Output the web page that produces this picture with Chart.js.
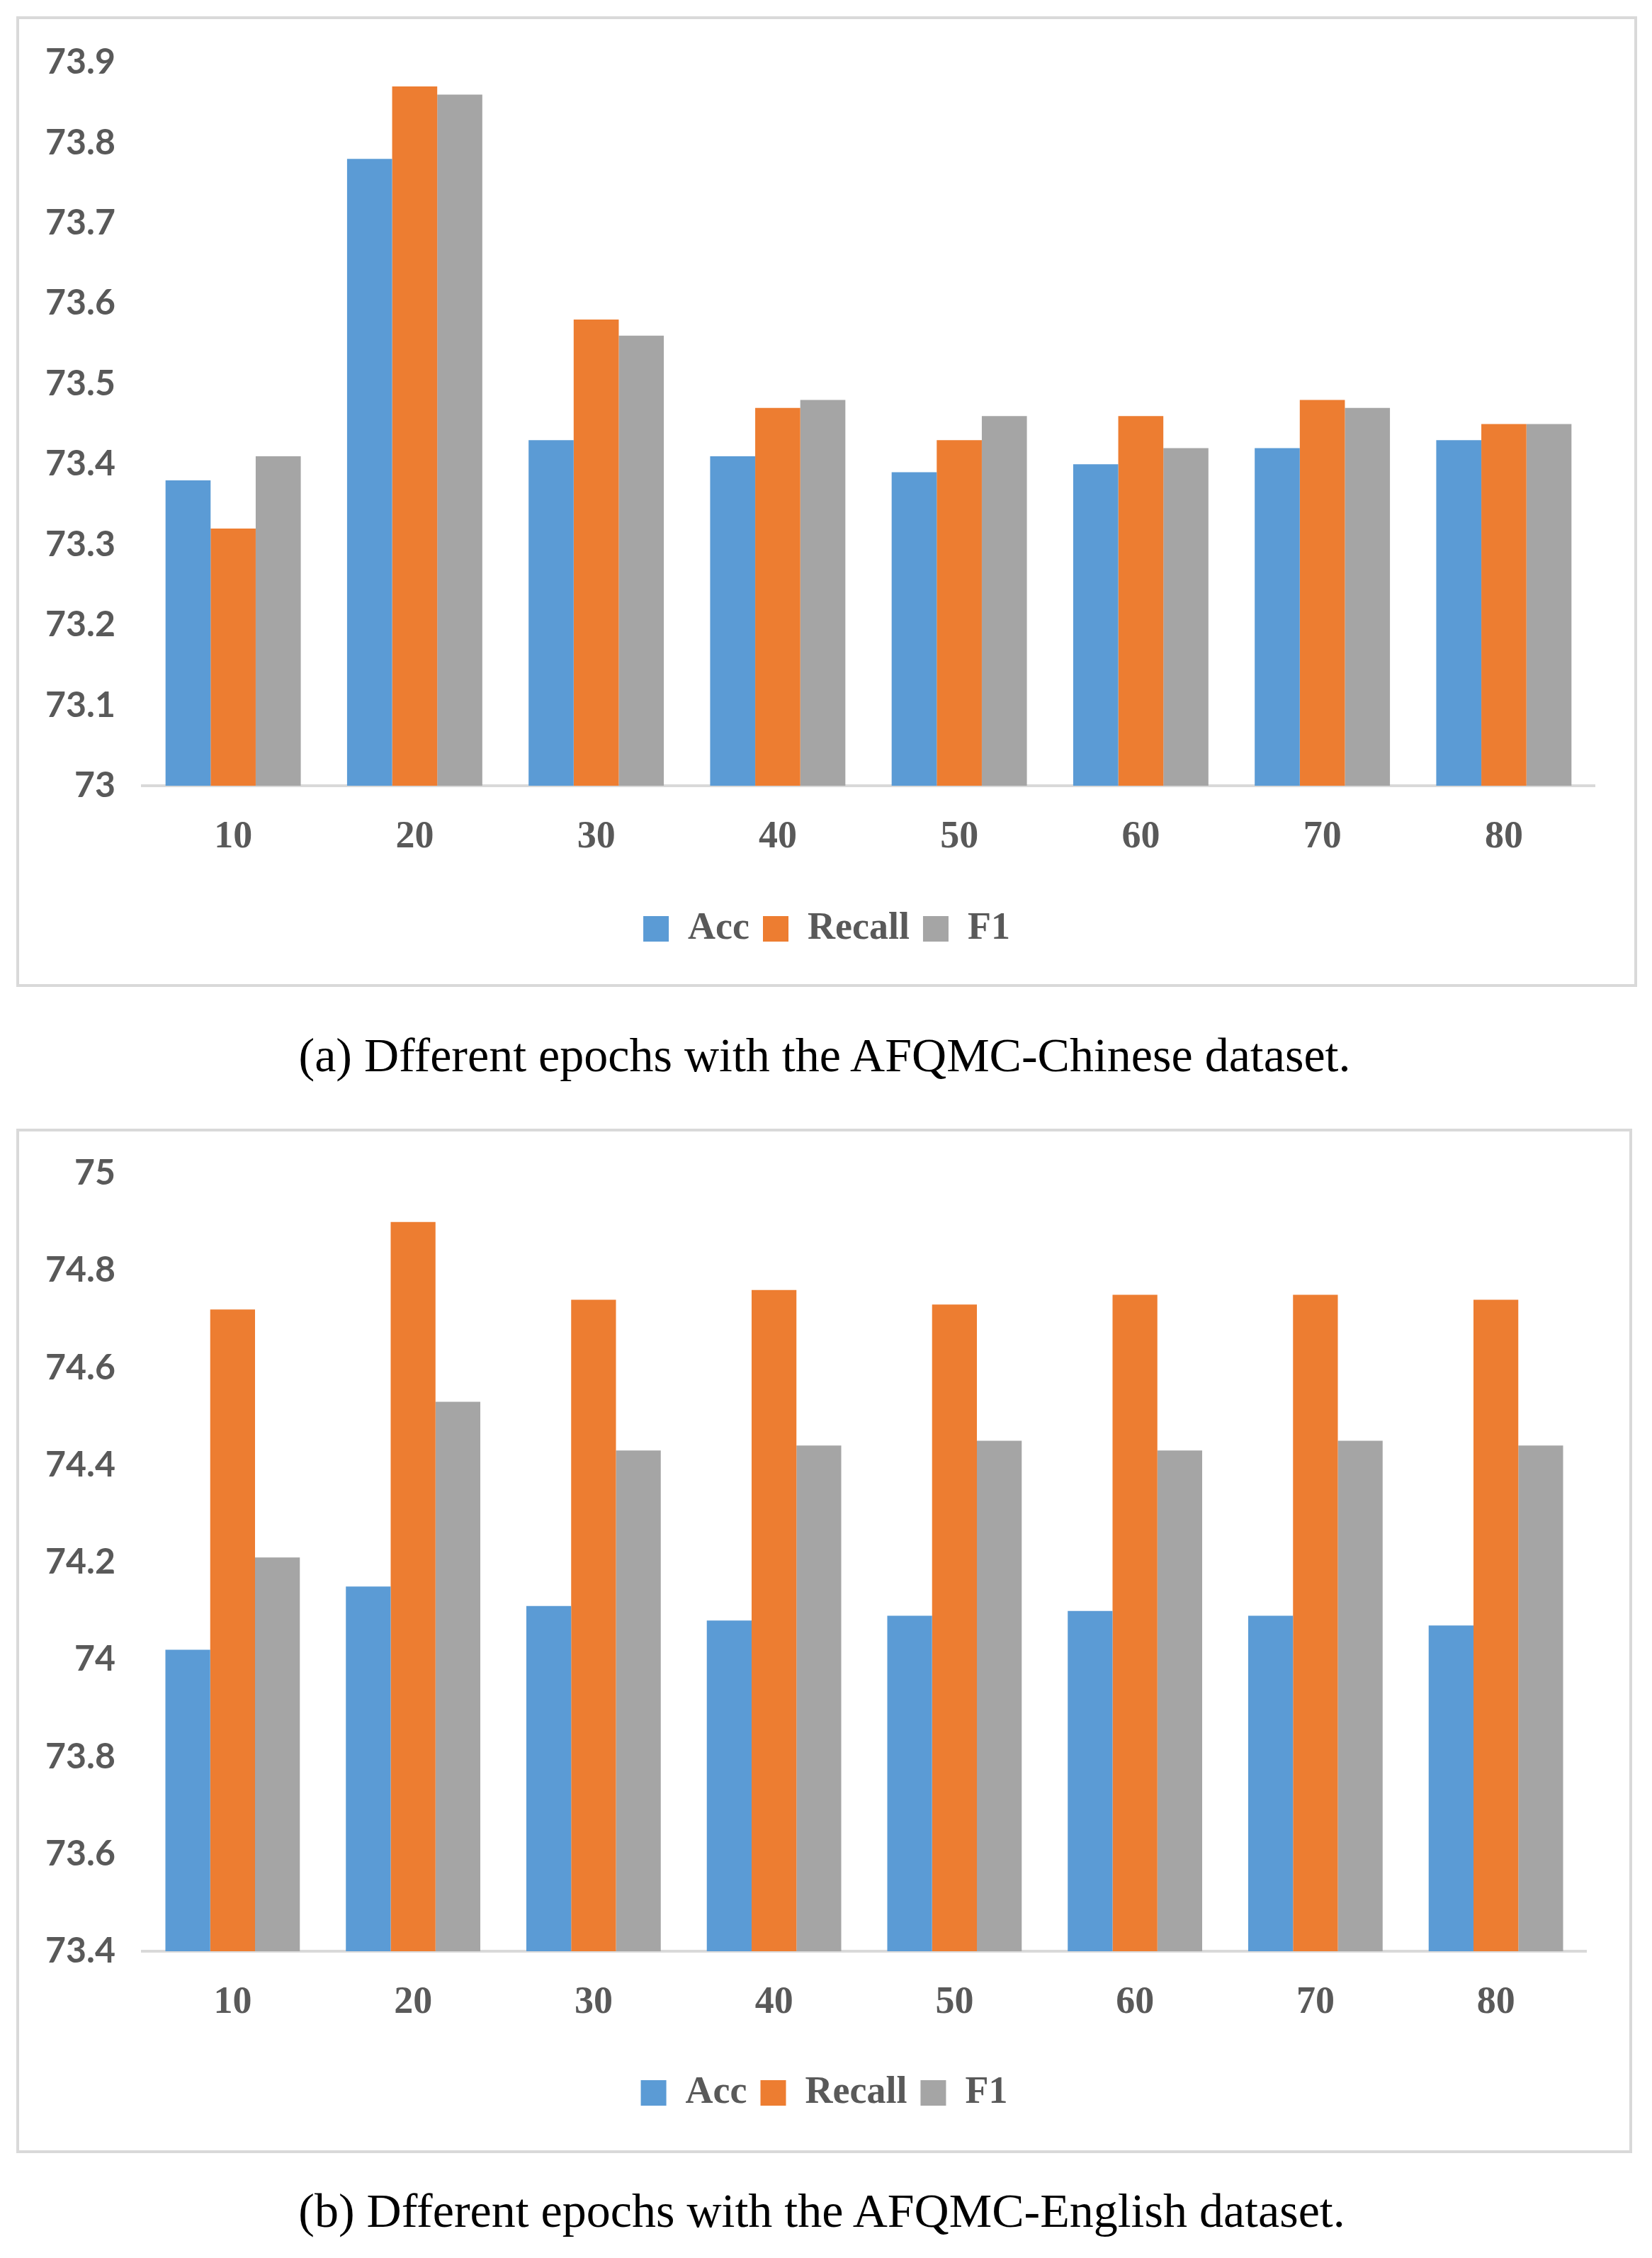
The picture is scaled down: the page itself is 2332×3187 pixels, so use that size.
<!DOCTYPE html>
<html>
<head>
<meta charset="utf-8">
<script src="https://cdn.jsdelivr.net/npm/chart.js@4.4.1/dist/chart.umd.min.js"></script>
<style>
    html, body { margin: 0; padding: 0; background: #ffffff; }
    body { position: relative; width: 2332px; height: 3187px; overflow: hidden; }
    .panel {
        position: absolute;
        box-sizing: border-box;
        border: 4px solid #d9d9d9;
        background: #ffffff;
    }
    .panel .wrap { position: relative; width: 100%; height: 100%; }
    .caption {
        position: absolute;
        left: 0;
        width: 2332px;
        text-align: center;
        font-family: "Liberation Serif", "Times New Roman", serif;
        font-size: 68px;
        line-height: 68px;
        color: #000000;
        white-space: nowrap;
    }
</style>
</head>
<body>

<div class="panel" id="panelA" style="left:23px; top:23px; width:2288px; height:1370px;">
    <div class="wrap"><canvas id="chartA"></canvas></div>
</div>
<div class="caption" style="top:1455px; left:-2px;">(a) Dfferent epochs with the AFQMC-Chinese dataset.</div>

<div class="panel" id="panelB" style="left:23px; top:1593px; width:2281px; height:1446px;">
    <div class="wrap"><canvas id="chartB"></canvas></div>
</div>
<div class="caption" style="top:3086px; left:-6px;">(b) Dfferent epochs with the AFQMC-English dataset.</div>

<script>
// Categories (training epochs)
const epochs = ['10', '20', '30', '40', '50', '60', '70', '80'];
const seriesNames = ['Acc', 'Recall', 'F1'];

// (a) AFQMC-Chinese
const accCn    = [73.38, 73.78, 73.43, 73.41, 73.39, 73.40, 73.42, 73.43];
const recallCn = [73.32, 73.87, 73.58, 73.47, 73.43, 73.46, 73.48, 73.45];
const f1Cn     = [73.41, 73.86, 73.56, 73.48, 73.46, 73.42, 73.47, 73.45];
const yTicksCn = [73, 73.1, 73.2, 73.3, 73.4, 73.5, 73.6, 73.7, 73.8, 73.9];

// (b) AFQMC-English
const accEn    = [74.02, 74.15, 74.11, 74.08, 74.09, 74.10, 74.09, 74.07];
const recallEn = [74.72, 74.90, 74.74, 74.76, 74.73, 74.75, 74.75, 74.74];
const f1En     = [74.21, 74.53, 74.43, 74.44, 74.45, 74.43, 74.45, 74.44];
const yTicksEn = [73.4, 73.6, 73.8, 74, 74.2, 74.4, 74.6, 74.8, 75];

const colors = ['#5b9bd5', '#ed7d31', '#a5a5a5'];
const axisGrey = '#d9d9d9';
const textGrey = '#595959';

// Keep the legend centred on the whole canvas, not on the padded area
const centerLegend = {
    id: 'centerLegend',
    afterLayout(chart) {
        const lg = chart.legend;
        if (!lg) return;
        const shift = chart.width / 2 - (lg.left + lg.right) / 2;
        lg.left += shift;
        lg.right += shift;
    }
};

// Build one grouped bar chart
function makeChart(canvasId, series, yTicks, layout) {
    const ctx = document.getElementById(canvasId);
    return new Chart(ctx, {
        type: 'bar',
        data: {
            labels: epochs,
            datasets: series.map((values, i) => ({
                label: seriesNames[i],
                data: values,
                backgroundColor: colors[i],
                borderWidth: 0,
                categoryPercentage: 0.745,
                barPercentage: 1.0
            }))
        },
        plugins: [centerLegend],
        options: {
            responsive: true,
            maintainAspectRatio: false,
            devicePixelRatio: 1,
            animation: false,
            layout: {
                padding: { left: 0, right: layout.right, top: layout.top, bottom: layout.bottom }
            },
            plugins: {
                tooltip: { enabled: false },
                legend: {
                    position: 'bottom',
                    labels: {
                        boxWidth: 36,
                        boxHeight: 36,
                        padding: 19,
                        color: textGrey,
                        font: { family: '"Liberation Serif", serif', size: 54, weight: 'bold' }
                    }
                }
            },
            scales: {
                x: {
                    grid: { display: false, drawTicks: false },
                    border: { display: true, color: axisGrey, width: 4 },
                    ticks: {
                        padding: 41,
                        color: textGrey,
                        font: { family: '"Liberation Serif", serif', size: 54, weight: 'bold' }
                    },
                    afterFit: scale => { scale.height = layout.xHeight; }
                },
                y: {
                    min: yTicks[0],
                    max: yTicks[yTicks.length - 1],
                    grid: { display: false, drawTicks: false },
                    border: { display: false },
                    afterBuildTicks: scale => {
                        scale.ticks = yTicks.map(v => ({ value: v }));
                    },
                    ticks: {
                        padding: 38,
                        color: textGrey,
                        font: { family: 'Lato', size: 50, weight: 'bold' },
                        callback: value => String(value)
                    },
                    afterFit: scale => {
                        scale.width = 174;
                        // let the layout padding alone decide the plot top
                        scale.paddingTop = 0;
                        scale.paddingBottom = 0;
                    }
                }
            }
        }
    });
}

document.addEventListener('DOMContentLoaded', function() {
    makeChart('chartA', [accCn, recallCn, f1Cn], yTicksCn,
        { right: 56, top: 61, bottom: 41, xHeight: 156 });
    makeChart('chartB', [accEn, recallEn, f1En], yTicksEn,
        { right: 61, top: 59, bottom: 44, xHeight: 154 });
});
</script>
</body>
</html>
